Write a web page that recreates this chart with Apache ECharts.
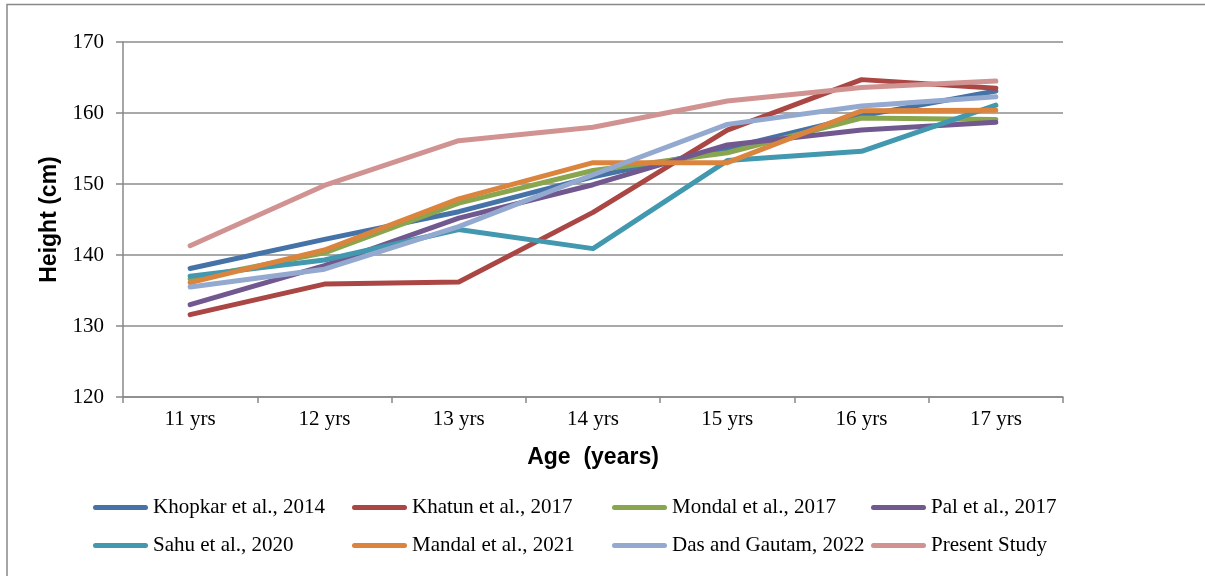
<!DOCTYPE html>
<html>
<head>
<meta charset="utf-8">
<script src="https://cdn.jsdelivr.net/npm/echarts@6/dist/echarts.min.js"></script>
<style>
html,body{margin:0;padding:0;background:#fff;}
#chart{width:1205px;height:576px;}
</style>
</head>
<body>
<div id="chart"></div>
<script>
var categories = ['11 yrs', '12 yrs', '13 yrs', '14 yrs', '15 yrs', '16 yrs', '17 yrs'];
var seriesNames = ['Khopkar et al., 2014', 'Khatun et al., 2017', 'Mondal et al., 2017', 'Pal et al., 2017',
                   'Sahu et al., 2020', 'Mandal et al., 2021', 'Das and Gautam, 2022', 'Present Study'];
var khopkar = [138.1, 142.2, 146.1, 151.0, 155.0, 159.6, 163.1];
var khatun  = [131.6, 135.9, 136.2, 146.0, 157.6, 164.7, 163.5];
var mondal  = [136.6, 140.3, 147.3, 151.9, 154.4, 159.3, 159.1];
var pal     = [133.0, 138.5, 145.2, 149.9, 155.5, 157.6, 158.7];
var sahu    = [137.0, 139.3, 143.6, 140.9, 153.3, 154.6, 161.1];
var mandal  = [136.1, 140.7, 147.9, 153.0, 153.0, 160.3, 160.4];
var das     = [135.5, 138.0, 144.0, 151.3, 158.4, 161.0, 162.3];
var present = [141.3, 149.8, 156.1, 158.0, 161.7, 163.6, 164.5];
var yTicks = [120, 130, 140, 150, 160, 170];

var allData = [khopkar, khatun, mondal, pal, sahu, mandal, das, present];
var colors = ['#4572A7', '#AA4643', '#89A54E', '#71588F', '#4198AF', '#DB843D', '#93A9CF', '#D19392'];

var chart = echarts.init(document.getElementById('chart'), null, {renderer: 'canvas'});
var serif = '"Liberation Serif", "Times New Roman", serif';
var sans = '"Liberation Sans", Arial, sans-serif';

var legendPos = [[93, 497], [352, 497], [612, 497], [871, 497],
                 [93, 535], [352, 535], [612, 535], [871, 535]];
var capsule = 'path://M2.5,0 L52.5,0 A2.5,2.5 0 0 1 52.5,5 L2.5,5 A2.5,2.5 0 0 1 2.5,0 Z';

var legends = seriesNames.map(function (n, i) {
  return {
    data: [{name: n, icon: capsule}],
    left: legendPos[i][0], top: legendPos[i][1],
    padding: 0, itemWidth: 55, itemHeight: 5, itemGap: 0,
    textStyle: {fontFamily: serif, fontSize: 21, color: '#000', padding: [0, 0, 0, 0]},
    selectedMode: false
  };
});

var series = seriesNames.map(function (n, i) {
  return {
    name: n, type: 'line', data: allData[i],
    symbol: 'none', smooth: false, animation: false,
    color: colors[i],
    lineStyle: {width: 5, color: colors[i], cap: 'round', join: 'round'},
    itemStyle: {color: colors[i]}
  };
});

chart.setOption({
  animation: false,
  backgroundColor: '#fff',
  grid: {left: 123, right: 142, top: 42, bottom: 179},
  legend: legends,
  xAxis: {
    type: 'category', data: categories, boundaryGap: true,
    axisLine: {lineStyle: {color: '#888', width: 1.5}},
    axisTick: {show: true, length: 6, lineStyle: {color: '#888', width: 1.5}},
    axisLabel: {fontFamily: serif, fontSize: 21, color: '#000', margin: 12},
    name: 'Age  (years)', nameLocation: 'middle', nameGap: 49,
    nameTextStyle: {fontFamily: sans, fontWeight: 'bold', fontSize: 23, color: '#000'}
  },
  yAxis: {
    type: 'value', min: yTicks[0], max: yTicks[yTicks.length - 1], interval: 10,
    axisLine: {show: true, lineStyle: {color: '#888', width: 1.5}},
    axisTick: {show: true, length: 7, lineStyle: {color: '#888', width: 1.5}},
    splitLine: {lineStyle: {color: '#8c8c8c', width: 1.5}},
    axisLabel: {fontFamily: serif, fontSize: 21, color: '#000', margin: 19},
    name: 'Height (cm)', nameLocation: 'middle', nameGap: 62, nameRotate: 90,
    nameTextStyle: {fontFamily: sans, fontWeight: 'bold', fontSize: 23, color: '#000'}
  },
  graphic: [{
    type: 'polyline', silent: true,
    shape: {points: [[7, 576], [7, 4.5], [1205, 4.5]]},
    style: {stroke: '#888', lineWidth: 1.5, fill: null}
  }],
  series: series
});
</script>
</body>
</html>
